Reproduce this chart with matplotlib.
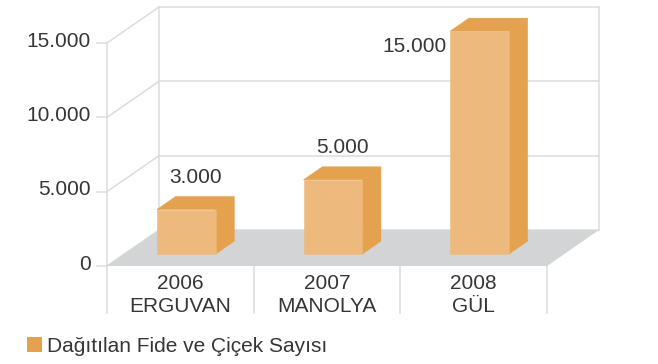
import matplotlib.pyplot as plt
from matplotlib.patches import Polygon, Patch

years = ['2006', '2007', '2008']
flowers = ['ERGUVAN', 'MANOLYA', 'GÜL']
counts = [3000, 5000, 15000]
value_labels = ['3.000', '5.000', '15.000']
y_ticks = [0, 5000, 10000, 15000]
y_tick_labels = ['0', '5.000', '10.000', '15.000']
series_name = 'Dağıtılan Fide ve Çiçek Sayısı'

FRONT = '#eeb97c'
SHADE = '#e4a24f'
FLOOR = '#d3d4d6'
GRID = '#dcdcdc'
TEXT = '#363636'

plt.rcParams['font.family'] = ['Liberation Sans', 'DejaVu Sans']
FS = 15

W, H = 658, 364
fig = plt.figure(figsize=(W / 100, H / 100), dpi=100)
ax = fig.add_axes([0, 0, 1, 1])
ax.axis('off')

# front plane of the chart box, in pixels
x0_px, x1_px = 107, 547
y0_px, ytop_px = 266, 43
sx = (x1_px - x0_px) / len(years)      # px per category
sy = (y0_px - ytop_px) / y_ticks[-1]   # px per unit
ax.set_xlim(-0.5 - x0_px / sx, -0.5 + (W - x0_px) / sx)
ax.set_ylim(-(H - y0_px) / sy, y0_px / sy)

# oblique depth of the box
DX = 52 / sx
DY = 36 / sy
left, right = -0.5, len(years) - 0.5
ymax = y_ticks[-1]
bottom = -47 / sy  # lower end of the category dividers

lw = 1.1
# side wall and back wall grid
for t in y_ticks:
    ax.plot([left, left + DX], [t, t + DY], color=GRID, lw=lw, zorder=1)
    ax.plot([left + DX, right + DX], [t + DY, t + DY], color=GRID, lw=lw, zorder=1)
    ax.plot([left - 10 / sx, left], [t, t], color=GRID, lw=lw, zorder=1)
ax.plot([left + DX, left + DX], [DY, ymax + DY], color=GRID, lw=lw, zorder=1)
ax.plot([right + DX, right + DX], [DY, ymax + DY], color=GRID, lw=lw, zorder=1)
ax.plot([left, left], [bottom, ymax], color=GRID, lw=lw, zorder=1)
for i in range(len(years)):
    ax.plot([i + 0.5, i + 0.5], [bottom, 0], color=GRID, lw=lw, zorder=1)

# floor
ax.add_patch(Polygon([(left, 0), (right, 0), (right + DX, DY), (left + DX, DY)],
                     closed=True, facecolor=FLOOR, edgecolor='none', zorder=2))

# 3d bars, sitting in the middle of the depth
bw = 0.40
f0, f1 = 0.33, 0.69
d = f1 - f0
for i, v in enumerate(counts):
    xl = i - bw / 2 + 0.04
    xr = xl + bw
    yb = f0 * DY
    yt = v + f0 * DY
    front = [(xl, yb), (xr, yb), (xr, yt), (xl, yt)]
    top = [(xl, yt), (xr, yt), (xr + d * DX, yt + d * DY), (xl + d * DX, yt + d * DY)]
    side = [(xr, yb), (xr + d * DX, yb + d * DY), (xr + d * DX, yt + d * DY), (xr, yt)]
    for pts, c in ((side, SHADE), (top, SHADE), (front, FRONT)):
        ax.add_patch(Polygon(pts, closed=True, facecolor=c, edgecolor=c,
                             lw=0.4, zorder=3))
    if i < len(counts) - 1:
        ax.text(xl + bw / 2 + d * DX / 2, yt + d * DY + 19 / sy, value_labels[i],
                ha='center', va='center', fontsize=FS, color=TEXT, zorder=4)
    else:
        ax.text(xl - 4 / sx, yt - 15 / sy, value_labels[i],
                ha='right', va='center', fontsize=FS, color=TEXT, zorder=4)

# value axis labels
for t, lab in zip(y_ticks, y_tick_labels):
    ax.text(left - 16 / sx, t + 2 / sy, lab, ha='right', va='center',
            fontsize=FS, color=TEXT)

# category labels
for i, (yr, name) in enumerate(zip(years, flowers)):
    ax.text(i, -8 / sy, yr + '\n' + name, ha='center', va='top',
            fontsize=FS, color=TEXT, linespacing=1.25)

ax.legend(handles=[Patch(facecolor=SHADE, edgecolor='none', label=series_name)],
          loc='lower left', bbox_to_anchor=(27 / W, 8 / H), frameon=False,
          fontsize=FS, handlelength=0.72, handleheight=0.72,
          handletextpad=0.25, borderpad=0, borderaxespad=0, labelcolor=TEXT)

fig.savefig('out.png', dpi=100)
